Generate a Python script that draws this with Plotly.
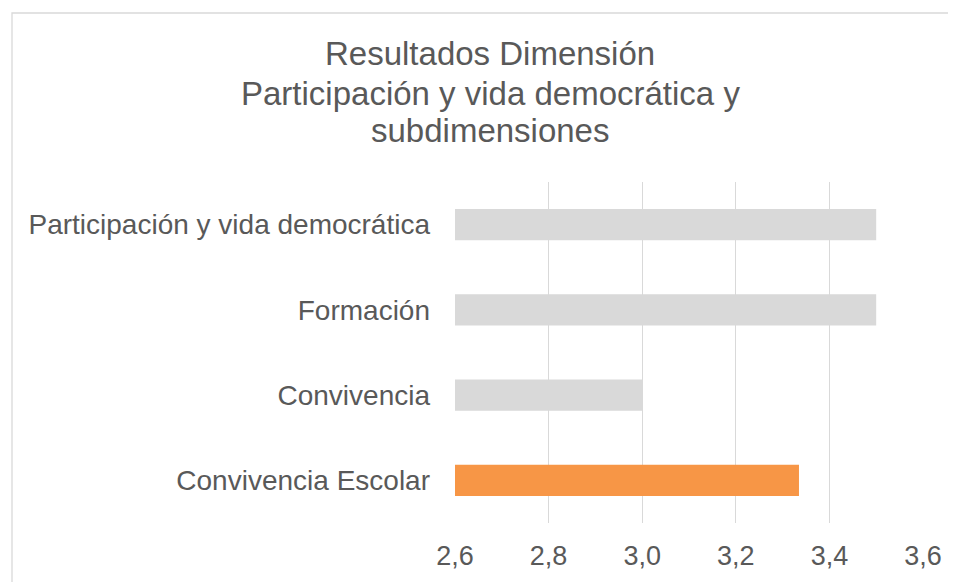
import plotly.graph_objects as go

categories = ["Convivencia Escolar", "Convivencia", "Formación", "Participación y vida democrática"]
values = [3.335, 3.0, 3.5, 3.5]
colors = ["#F79646", "#D9D9D9", "#D9D9D9", "#D9D9D9"]
tick_vals = [2.6, 2.8, 3.0, 3.2, 3.4, 3.6]
tick_text = ["2,6", "2,8", "3,0", "3,2", "3,4", "3,6"]
title_lines = ["Resultados Dimensión", "Participación y vida democrática y", "subdimensiones"]

# the page adds an 8px body margin, so the figure is 8px smaller and offset
OFF = 8
W, H = 956 - OFF, 582 - OFF
L, R, T, B = 455 - OFF, 33, 182 - OFF, 59
pw, ph = W - L - R, H - T - B

font = "Liberation Sans, Arial, sans-serif"
grey = "#595959"

fig = go.Figure(go.Bar(
    y=categories, x=values, orientation="h",
    marker=dict(color=colors, line=dict(width=0)),
    base=0,
))

fig.update_layout(
    width=W, height=H,
    margin=dict(l=L, r=R, t=T, b=B, pad=0),
    plot_bgcolor="white", paper_bgcolor="white",
    bargap=0.635,
    showlegend=False,
    font=dict(family=font, color=grey, size=28),
    xaxis=dict(range=[2.6, 3.6], tickvals=tick_vals, ticktext=tick_text,
               showgrid=True, gridcolor="#D9D9D9", gridwidth=1.3,
               zeroline=False, showline=False, ticks="", ticklabelstandoff=14,
               tickfont=dict(size=27, color=grey)),
    yaxis=dict(showgrid=False, zeroline=False, showline=False, ticks="",
               ticklabelstandoff=24, tickfont=dict(size=28, color=grey)),
)

# title lines (reference pixel centres)
for line, cy in zip(title_lines, [54, 93, 131]):
    fig.add_annotation(
        text=line, xref="paper", yref="paper",
        x=(490 - OFF - L) / pw, y=(H - B - (cy - OFF)) / ph,
        xanchor="center", yanchor="middle",
        showarrow=False, font=dict(size=33, color=grey, family=font), align="center",
    )

# chart-area border (light grey), extends beyond the visible window
fig.add_shape(type="rect", xref="paper", yref="paper",
              x0=(12 - OFF - L) / pw, x1=1.5, y0=-0.5, y1=(H - B - (13 - OFF)) / ph,
              line=dict(color="#D9D9D9", width=1.3), fillcolor="rgba(0,0,0,0)", layer="below")

fig.write_html("out.html")
